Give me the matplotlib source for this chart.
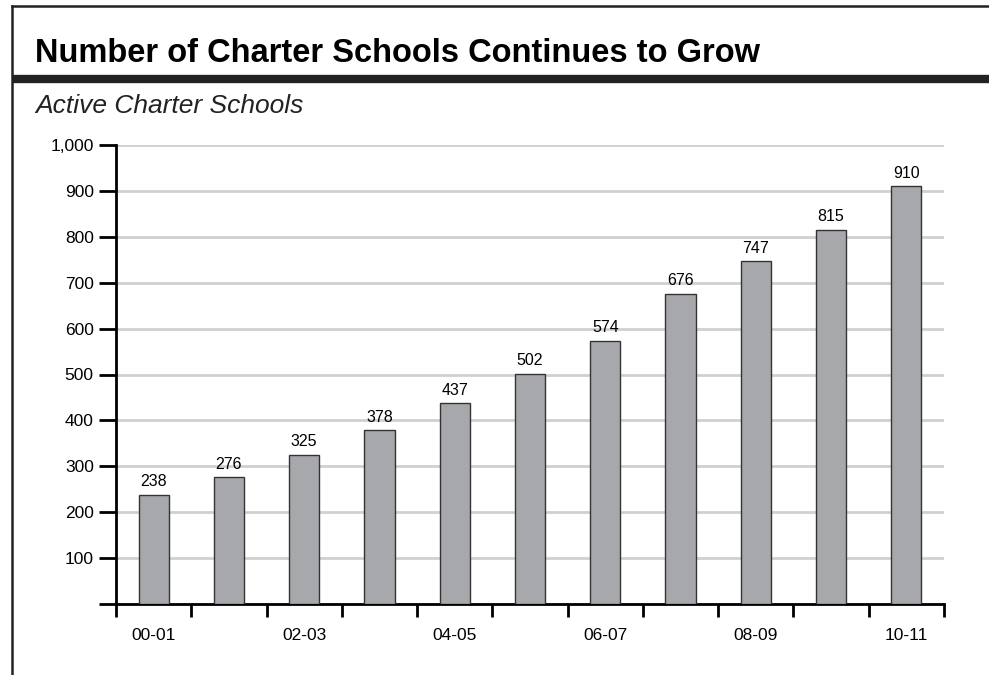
import matplotlib
matplotlib.use("Agg")
import matplotlib.pyplot as plt
from matplotlib.lines import Line2D
import numpy as np

# data
years = ['00-01', '01-02', '02-03', '03-04', '04-05', '05-06',
         '06-07', '07-08', '08-09', '09-10', '10-11']
schools = [238, 276, 325, 378, 437, 502, 574, 676, 747, 815, 910]
yticks = [0, 100, 200, 300, 400, 500, 600, 700, 800, 900, 1000]

plt.rcParams['font.family'] = ['Liberation Sans', 'DejaVu Sans']

fig = plt.figure(figsize=(9.89, 6.75), dpi=100)
ax = fig.add_axes([116 / 989, 71 / 675, 828 / 989, 459 / 675])

x = np.arange(len(years))
bars = ax.bar(x, schools, width=0.4, color='#a7a8ab', edgecolor='#333333',
              linewidth=1, zorder=3)
ax.bar_label(bars, padding=4, fontsize=11.5)

ax.set_xlim(-0.5, len(years) - 0.5)
ax.set_ylim(0, 1000)
ax.set_yticks(yticks)
ax.set_yticklabels(['' if v == 0 else f'{v:,}' for v in yticks], fontsize=12.5)
ax.yaxis.grid(True, color='#d0d0d0', linewidth=2, zorder=0)

ax.set_xticks(np.arange(len(years) + 1) - 0.5)
ax.set_xticklabels([])
ax.set_xticks(x, minor=True)
ax.set_xticklabels([y if i % 2 == 0 else '' for i, y in enumerate(years)],
                   minor=True, fontsize=12.5)
ax.tick_params(axis='x', which='major', direction='out', length=9, width=2)
ax.tick_params(axis='x', which='minor', length=0, pad=17)
ax.tick_params(axis='y', direction='out', length=12, width=2, pad=4)

for s in ['top', 'right']:
    ax.spines[s].set_visible(False)
ax.spines['left'].set_linewidth(2)
ax.spines['bottom'].set_linewidth(2)

# frame and title block
fig.add_artist(Line2D([12 / 989, 12 / 989], [0, 1 - 6 / 675], color='#222222', lw=1.8))
fig.add_artist(Line2D([12 / 989, 1], [1 - 6 / 675, 1 - 6 / 675], color='#222222', lw=1.8))
fig.add_artist(Line2D([12 / 989, 1], [1 - 79 / 675, 1 - 79 / 675], color='#222222', lw=6,
                      solid_capstyle='butt'))
fig.text(35 / 989, 1 - 53 / 675, 'Number of Charter Schools Continues to Grow',
         fontsize=23.5, fontweight='bold', va='center', ha='left')
fig.text(35 / 989, 1 - 106 / 675, 'Active Charter Schools',
         fontsize=19, fontstyle='italic', va='center', ha='left', color='#222222')

fig.savefig('out.png', dpi=100)
